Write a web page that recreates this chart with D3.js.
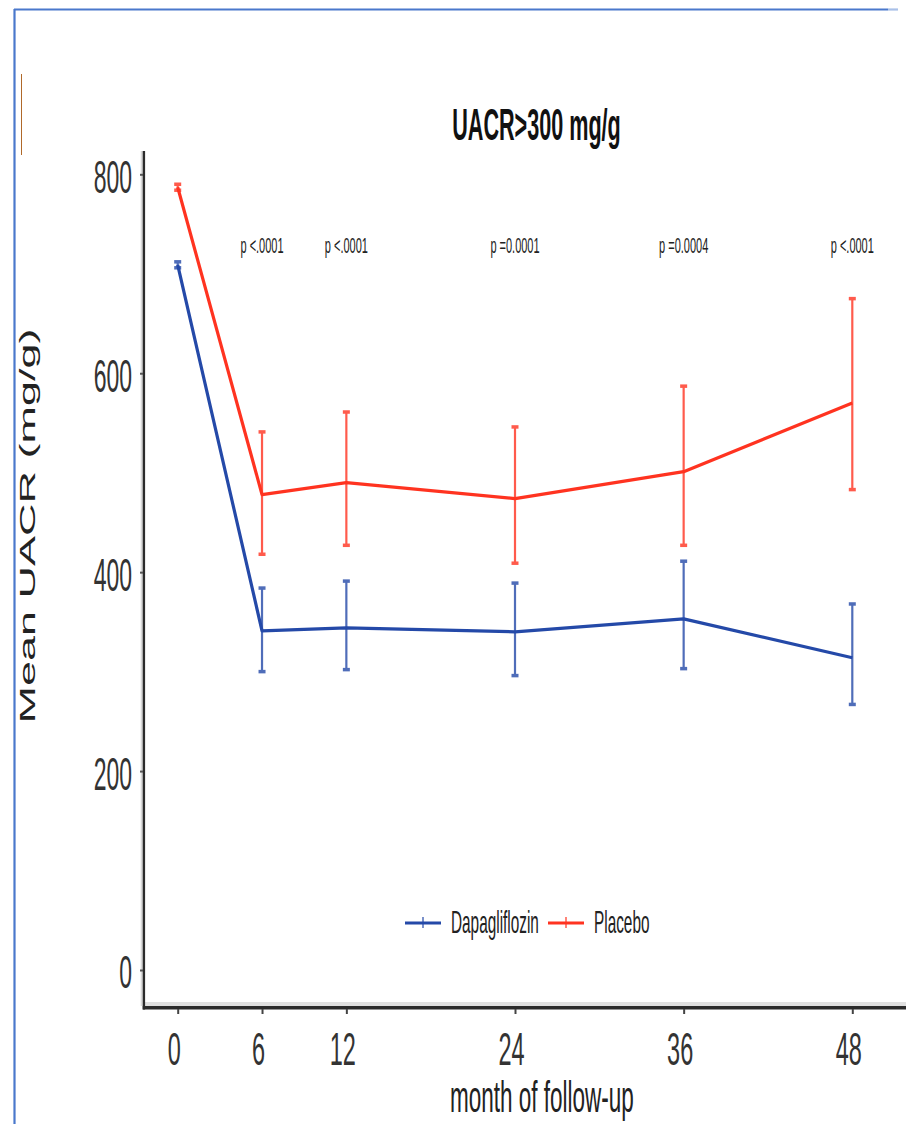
<!DOCTYPE html>
<html>
<head>
<meta charset="utf-8">
<script src="https://cdn.jsdelivr.net/npm/d3@7"></script>
<style>
  html, body { margin: 0; padding: 0; background: #fff; }
  svg { display: block; }
  text { font-family: "Liberation Sans", Arial, Helvetica, sans-serif; fill: #222; }
</style>
</head>
<body>
<svg id="chart" width="908" height="1124"></svg>
<script>
// Follow-up months
const months = [0, 6, 12, 24, 36, 48];

// Mean UACR (mg/g) with lower / upper error bar ends
const dapaMean   = [709, 341, 344, 340, 353, 314];
const dapaLower  = [706, 300, 302, 296, 303, 267];
const dapaUpper  = [712, 384, 391, 389, 411, 368];

const placeboMean  = [787, 478, 490, 474, 501, 570];
const placeboLower = [784, 418, 427, 409, 427, 483];
const placeboUpper = [790, 541, 561, 546, 587, 675];

// Between-group comparisons
const pMonths = [6, 12, 24, 36, 48];
const pLabels = ["p <.0001", "p <.0001", "p =0.0001", "p =0.0004", "p <.0001"];

const yTicks = [0, 200, 400, 600, 800];
const seriesNames = ["Dapagliflozin", "Placebo"];
const seriesColors = ["#2449a8", "#ff3320"];

// Text in this figure is drawn horizontally condensed
const SX = 0.5;

const svg = d3.select("#chart");

const x = d3.scaleLinear().domain([0, 48]).range([177.7, 852.3]);
const y = d3.scaleLinear().domain([0, 800]).range([970, 174.3]);

// Outer frame
svg.append("line").attr("x1", 14.5).attr("x2", 14.5).attr("y1", 9).attr("y2", 1124)
  .attr("stroke", "#4a78cc").attr("stroke-width", 2.2);
svg.append("line").attr("x1", 14).attr("x2", 888).attr("y1", 9.5).attr("y2", 9.5)
  .attr("stroke", "#4a78cc").attr("stroke-width", 2.2);
svg.append("line").attr("x1", 888).attr("x2", 898).attr("y1", 9.5).attr("y2", 9.5)
  .attr("stroke", "#a9c0e8").attr("stroke-width", 2.2);
svg.append("line").attr("x1", 21.5).attr("x2", 21.5).attr("y1", 74).attr("y2", 155)
  .attr("stroke", "#b0692a").attr("stroke-width", 1);

// Title
svg.append("text")
  .attr("transform", `translate(536.5,140) scale(${SX * 0.96},1)`)
  .attr("text-anchor", "middle")
  .attr("font-size", 45).attr("font-weight", "bold")
  .style("fill", "#111")
  .text("UACR>300 mg/g");

// Axis lines
svg.append("rect").attr("x", 140.7).attr("y", 151).attr("width", 2).attr("height", 855)
  .attr("fill", "#d9d9d9");
svg.append("rect").attr("x", 143).attr("y", 1002).attr("width", 763).attr("height", 4.2)
  .attr("fill", "#e0e0e0");
svg.append("rect").attr("x", 142.7).attr("y", 151).attr("width", 2.4).attr("height", 858.5)
  .attr("fill", "#2b2b2b");
svg.append("rect").attr("x", 142.7).attr("y", 1006).attr("width", 763.3).attr("height", 3.5)
  .attr("fill", "#2b2b2b");

// Y axis
const yAxis = svg.append("g").attr("transform", "translate(143,0)")
  .call(d3.axisLeft(y).tickValues(yTicks).tickSize(3).tickPadding(8));
yAxis.select(".domain").remove();
yAxis.selectAll(".tick line").attr("stroke", "#555").attr("stroke-width", 2);
yAxis.selectAll(".tick text")
  .attr("transform", `scale(${SX},1)`)
  .attr("x", -22).attr("dy", "0.39em")
  .attr("font-size", 46).style("fill", "#333");

// X axis
const xAxis = svg.append("g").attr("transform", "translate(0,1009)")
  .call(d3.axisBottom(x).tickValues(months).tickSize(5).tickPadding(17.7));
xAxis.select(".domain").remove();
xAxis.selectAll(".tick line").attr("stroke", "#444").attr("stroke-width", 2);
xAxis.selectAll(".tick text")
  .attr("transform", `scale(${SX},1)`)
  .attr("x", -8)
  .attr("font-size", 47).style("fill", "#333");

// Axis titles
svg.append("text")
  .attr("transform", `translate(450,1112) scale(${SX},1)`)
  .attr("x", 0)
  .attr("font-size", 45).style("fill", "#222")
  .text("month of follow-up");
svg.append("text")
  .attr("transform", `translate(35,526) scale(${SX},1) rotate(-90)`)
  .attr("text-anchor", "middle")
  .attr("font-size", 45).style("fill", "#222")
  .text("Mean UACR (mg/g)");

// Series data
const series = [
  { name: seriesNames[0], color: seriesColors[0], mean: dapaMean, lo: dapaLower, hi: dapaUpper },
  { name: seriesNames[1], color: seriesColors[1], mean: placeboMean, lo: placeboLower, hi: placeboUpper }
];

const line = d3.line().x(d => x(d.m)).y(d => y(d.v));

series.forEach(s => {
  const pts = months.map((m, i) => ({ m, v: s.mean[i], lo: s.lo[i], hi: s.hi[i] }));
  const g = svg.append("g");

  // Error bars
  const eb = g.selectAll(".eb").data(pts).join("g").attr("opacity", 0.8);
  eb.append("line")
    .attr("x1", d => x(d.m)).attr("x2", d => x(d.m))
    .attr("y1", d => y(d.lo)).attr("y2", d => y(d.hi))
    .attr("stroke", s.color).attr("stroke-width", 2.2);
  eb.append("line")
    .attr("x1", d => x(d.m) - 3.5).attr("x2", d => x(d.m) + 3.5)
    .attr("y1", d => y(d.lo)).attr("y2", d => y(d.lo))
    .attr("stroke", s.color).attr("stroke-width", 3.5);
  eb.append("line")
    .attr("x1", d => x(d.m) - 3.5).attr("x2", d => x(d.m) + 3.5)
    .attr("y1", d => y(d.hi)).attr("y2", d => y(d.hi))
    .attr("stroke", s.color).attr("stroke-width", 3.5);

  // Mean line
  g.append("path").datum(pts)
    .attr("d", line)
    .attr("fill", "none")
    .attr("stroke", s.color)
    .attr("stroke-width", 3.2)
    .attr("stroke-linejoin", "round");
});

// p-value labels
svg.append("g").selectAll("text").data(pMonths).join("text")
  .attr("transform", d => `translate(${x(d)},253) scale(${SX},1)`)
  .attr("text-anchor", "middle")
  .attr("font-size", 22).style("fill", "#222")
  .text((d, i) => pLabels[i]);

// Legend
const legendItems = [
  { name: seriesNames[0], color: seriesColors[0], x0: 405 },
  { name: seriesNames[1], color: seriesColors[1], x0: 548 }
];
const lg = svg.append("g");
legendItems.forEach(it => {
  lg.append("line").attr("x1", it.x0).attr("x2", it.x0 + 36)
    .attr("y1", 923).attr("y2", 923)
    .attr("stroke", it.color).attr("stroke-width", 3.2);
  lg.append("line").attr("x1", it.x0 + 18).attr("x2", it.x0 + 18)
    .attr("y1", 917).attr("y2", 928)
    .attr("stroke", it.color).attr("stroke-width", 2).attr("opacity", 0.6);
  lg.append("text")
    .attr("transform", `translate(${it.x0 + 46},933) scale(0.48,1)`)
    .attr("font-size", 32).style("fill", "#222")
    .text(it.name);
});
</script>
</body>
</html>
